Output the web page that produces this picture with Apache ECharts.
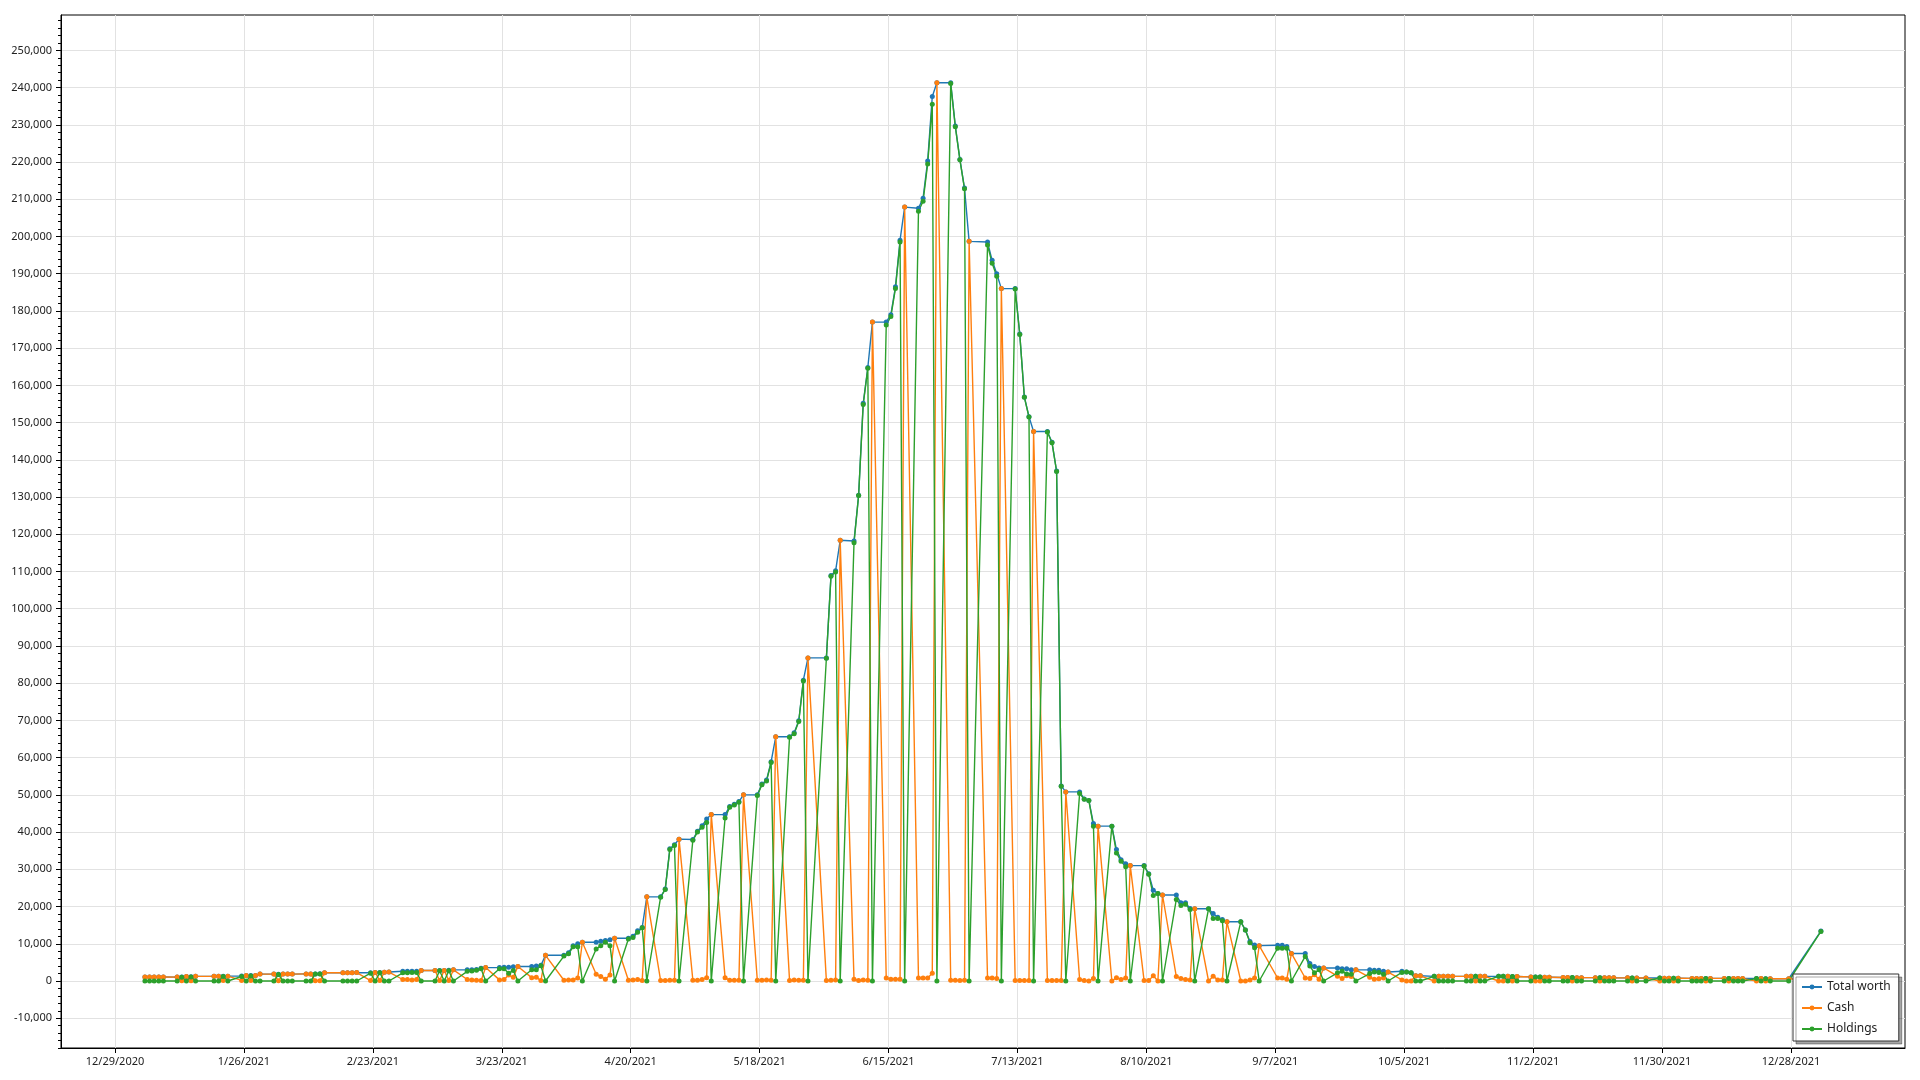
<!DOCTYPE html>
<html><head><meta charset="utf-8">
<script src="https://cdn.jsdelivr.net/npm/echarts@6/dist/echarts.min.js"></script>
<style>html,body{margin:0;padding:0;background:#fff;}#c{width:1920px;height:1080px;}</style>
</head><body><div id="c"></div>
<script>
// ---- data (one line per trading week) ----
const dates = [
'2021-01-04','2021-01-05','2021-01-06','2021-01-07','2021-01-08',
'2021-01-11','2021-01-12','2021-01-13','2021-01-14','2021-01-15',
'2021-01-19','2021-01-20','2021-01-21','2021-01-22',
'2021-01-25','2021-01-26','2021-01-27','2021-01-28','2021-01-29',
'2021-02-01','2021-02-02','2021-02-03','2021-02-04','2021-02-05',
'2021-02-08','2021-02-09','2021-02-10','2021-02-11','2021-02-12',
'2021-02-16','2021-02-17','2021-02-18','2021-02-19',
'2021-02-22','2021-02-23','2021-02-24','2021-02-25','2021-02-26',
'2021-03-01','2021-03-02','2021-03-03','2021-03-04','2021-03-05',
'2021-03-08','2021-03-09','2021-03-10','2021-03-11','2021-03-12',
'2021-03-15','2021-03-16','2021-03-17','2021-03-18','2021-03-19',
'2021-03-22','2021-03-23','2021-03-24','2021-03-25','2021-03-26',
'2021-03-29','2021-03-30','2021-03-31','2021-04-01',
'2021-04-05','2021-04-06','2021-04-07','2021-04-08','2021-04-09',
'2021-04-12','2021-04-13','2021-04-14','2021-04-15','2021-04-16',
'2021-04-19','2021-04-20','2021-04-21','2021-04-22','2021-04-23',
'2021-04-26','2021-04-27','2021-04-28','2021-04-29','2021-04-30',
'2021-05-03','2021-05-04','2021-05-05','2021-05-06','2021-05-07',
'2021-05-10','2021-05-11','2021-05-12','2021-05-13','2021-05-14',
'2021-05-17','2021-05-18','2021-05-19','2021-05-20','2021-05-21',
'2021-05-24','2021-05-25','2021-05-26','2021-05-27','2021-05-28',
'2021-06-01','2021-06-02','2021-06-03','2021-06-04',
'2021-06-07','2021-06-08','2021-06-09','2021-06-10','2021-06-11',
'2021-06-14','2021-06-15','2021-06-16','2021-06-17','2021-06-18',
'2021-06-21','2021-06-22','2021-06-23','2021-06-24','2021-06-25',
'2021-06-28','2021-06-29','2021-06-30','2021-07-01','2021-07-02',
'2021-07-06','2021-07-07','2021-07-08','2021-07-09',
'2021-07-12','2021-07-13','2021-07-14','2021-07-15','2021-07-16',
'2021-07-19','2021-07-20','2021-07-21','2021-07-22','2021-07-23',
'2021-07-26','2021-07-27','2021-07-28','2021-07-29','2021-07-30',
'2021-08-02','2021-08-03','2021-08-04','2021-08-05','2021-08-06',
'2021-08-09','2021-08-10','2021-08-11','2021-08-12','2021-08-13',
'2021-08-16','2021-08-17','2021-08-18','2021-08-19','2021-08-20',
'2021-08-23','2021-08-24','2021-08-25','2021-08-26','2021-08-27',
'2021-08-30','2021-08-31','2021-09-01','2021-09-02','2021-09-03',
'2021-09-07','2021-09-08','2021-09-09','2021-09-10',
'2021-09-13','2021-09-14','2021-09-15','2021-09-16','2021-09-17',
'2021-09-20','2021-09-21','2021-09-22','2021-09-23','2021-09-24',
'2021-09-27','2021-09-28','2021-09-29','2021-09-30','2021-10-01',
'2021-10-04','2021-10-05','2021-10-06','2021-10-07','2021-10-08',
'2021-10-11','2021-10-12','2021-10-13','2021-10-14','2021-10-15',
'2021-10-18','2021-10-19','2021-10-20','2021-10-21','2021-10-22',
'2021-10-25','2021-10-26','2021-10-27','2021-10-28','2021-10-29',
'2021-11-01','2021-11-02','2021-11-03','2021-11-04','2021-11-05',
'2021-11-08','2021-11-09','2021-11-10','2021-11-11','2021-11-12',
'2021-11-15','2021-11-16','2021-11-17','2021-11-18','2021-11-19',
'2021-11-22','2021-11-23','2021-11-24','2021-11-26',
'2021-11-29','2021-11-30','2021-12-01','2021-12-02','2021-12-03',
'2021-12-06','2021-12-07','2021-12-08','2021-12-09','2021-12-10',
'2021-12-13','2021-12-14','2021-12-15','2021-12-16','2021-12-17',
'2021-12-20','2021-12-21','2021-12-22','2021-12-23',
'2021-12-27',
'2022-01-03'
];
const totalWorth = [
1080,1080,1080,1080,1080,
1050,1050,1200,1150,1250,
1250,1250,1300,1300,
1350,1450,1450,1500,1850,
1850,1800,1850,1850,1850,
1900,1900,1900,1950,2200,
2200,2200,2200,2250,
2200,2300,2300,2350,2400,
2600,2600,2600,2650,2800,
2800,2850,2850,2900,3000,
3000,3000,3100,3400,3600,
3600,3700,3700,3800,3900,
3900,4000,4200,6900,
6900,7600,9500,10000,10400,
10400,10700,10900,11100,11500,
11500,12000,13500,14400,22600,
22600,24700,35500,36600,38100,
38000,40200,41700,43500,44700,
44700,46900,47500,48200,50000,
50000,52900,54000,58900,65600,
65600,66700,69900,80800,86800,
86800,108900,110200,118400,
118200,130500,155200,164800,177000,
177000,179000,186500,199000,207900,
207600,210300,220300,237600,241300,
241300,229700,220700,213000,198700,
198500,193600,190000,186000,
186000,173800,156900,151600,147600,
147600,144700,137000,52400,50800,
50800,48900,48500,42300,41600,
41600,35300,32600,31500,31000,
31000,28800,24400,23500,23100,
23100,21000,21000,19500,19400,
19400,18100,17100,16500,15900,
15900,13700,10600,9700,9500,
9600,9600,9300,7400,
7400,4700,3900,3500,3500,
3500,3300,3300,3000,3000,
3000,2900,2900,2600,2400,
2600,2400,2200,1400,1400,
1250,1250,1250,1250,1250,
1250,1250,1250,1250,1250,
1250,1250,1250,1200,1200,
1100,1100,1050,1000,1000,
950,950,950,900,900,
900,900,850,850,850,
850,800,800,800,
800,750,750,750,750,
700,700,700,700,700,
700,650,650,650,650,
650,650,600,600,
600,
13400
];
const cash = [
1080,1080,1080,1080,1080,
1050,50,1200,50,1250,
1250,1250,100,1300,
150,1450,100,1500,1850,
1850,50,1850,1850,1850,
1900,1900,50,50,2200,
2200,2200,2200,2250,
100,2300,100,2350,2400,
400,400,300,400,2800,
2800,100,2850,150,3000,
400,300,200,100,3600,
300,400,1600,1000,3900,
900,1000,100,6900,
200,300,300,800,10400,
1800,1200,500,1600,11500,
200,300,400,100,22600,
100,100,200,200,38100,
200,200,400,900,44700,
900,200,200,200,50000,
200,200,300,200,65600,
100,300,200,200,86800,
100,200,300,118400,
500,100,300,200,177000,
800,500,500,500,207900,
800,800,800,2100,241300,
200,200,100,200,198700,
800,800,700,186000,
100,100,100,100,147600,
100,100,100,100,50800,
400,100,0,700,41600,
0,900,400,800,31000,
100,100,1400,0,23100,
1200,700,400,300,19400,
0,1300,300,300,15900,
0,0,300,800,9500,
800,800,500,7400,
800,700,1700,500,3500,
1300,700,1400,1200,3000,
1000,500,600,800,2400,
300,0,0,1400,1400,
0,1250,1250,1250,1250,
1250,1250,0,1250,1250,
0,0,1250,0,1200,
1100,0,0,1000,1000,
950,950,0,900,900,
900,0,850,850,850,
850,0,800,800,
0,750,750,0,750,
700,700,700,0,700,
700,0,650,650,650,
0,650,0,600,
600,
100
];
const holdings = [
0,0,0,0,0,
0,1000,0,1100,0,
0,0,1200,0,
1200,0,1350,0,0,
0,1750,0,0,0,
0,0,1850,1900,0,
0,0,0,0,
2100,0,2200,0,0,
2200,2200,2300,2250,0,
0,2750,0,2750,0,
2600,2700,2900,3300,0,
3300,3300,2100,2800,0,
3000,3000,4100,0,
6700,7300,9200,9200,0,
8600,9500,10400,9500,0,
11300,11700,13100,14300,0,
22500,24600,35300,36400,0,
37800,40000,41300,42600,0,
43800,46700,47300,48000,0,
49800,52700,53700,58700,0,
65500,66400,69700,80600,0,
86700,108700,109900,0,
117700,130400,154900,164600,0,
176200,178500,186000,198500,0,
206800,209500,219500,235500,0,
241100,229500,220600,212800,0,
197700,192800,189300,0,
185900,173700,156800,151500,0,
147500,144600,136900,52300,0,
50400,48800,48500,41600,0,
41600,34400,32200,30700,0,
30900,28700,23000,23500,0,
21900,20300,20600,19200,0,
19400,16800,16800,16200,0,
15900,13700,10300,8900,0,
8800,8800,8800,0,
6600,4000,2200,3000,0,
2200,2600,1900,1800,0,
2000,2400,2300,1800,0,
2300,2400,2200,0,0,
1250,0,0,0,0,
0,0,1250,0,0,
1250,1250,0,1200,0,
0,1100,1050,0,0,
0,0,950,0,0,
0,900,0,0,0,
0,800,0,0,
800,0,0,750,0,
0,0,0,700,0,
0,650,0,0,0,
650,0,600,0,
0,
13300
];
const seriesNames = ['Total worth', 'Cash', 'Holdings'];
const seriesColors = ['#1f77b4', '#ff7f0e', '#2ca02c'];
const xTickDates = ['2020-12-29','2021-01-26','2021-02-23','2021-03-23','2021-04-20','2021-05-18','2021-06-15',
  '2021-07-13','2021-08-10','2021-09-07','2021-10-05','2021-11-02','2021-11-30','2021-12-28'];
const yTickValues = [-10000,0,10000,20000,30000,40000,50000,60000,70000,80000,90000,100000,110000,120000,
  130000,140000,150000,160000,170000,180000,190000,200000,210000,220000,230000,240000,250000];

// ---- chart ----
const DAY = 86400000;
function ts(s){ const p = s.split('-').map(Number); return Date.UTC(p[0], p[1]-1, p[2]); }
const pointTime = s => ts(s) + DAY / 2;
const pairs = arr => dates.map((d, i) => [pointTime(d), arr[i]]);
const origin = ts('2020-12-29');
const xMin = origin - 11.73 * DAY, xMax = origin + 388.76 * DAY;
const yMin = -18000, yMax = 259500;
const xTicks = xTickDates.map(ts);
const yMinor = [];
for (let v = -18000; v <= 258000; v += 2000) yMinor.push(v);
const fmtDate = v => { const d = new Date(v); return (d.getUTCMonth()+1) + '/' + d.getUTCDate() + '/' + d.getUTCFullYear(); };
const fmtNum = v => Math.round(v).toLocaleString('en-US');
const FONT = 'Noto Sans';

const chart = echarts.init(document.getElementById('c'), null, {renderer: 'canvas'});
const mk = (k, arr) => ({
  name: seriesNames[k], type: 'line', data: pairs(arr),
  symbol: 'circle', symbolSize: 5, showAllSymbol: true,
  lineStyle: {width: 1.4, color: seriesColors[k]},
  itemStyle: {color: seriesColors[k]},
  emphasis: {disabled: true}, silent: true
});
chart.setOption({
  animation: false,
  backgroundColor: '#ffffff',
  textStyle: {fontFamily: FONT},
  grid: {left: 61, right: 15, top: 15, bottom: 32, show: true, borderColor: '#000', borderWidth: 1,
         containLabel: false, outerBoundsMode: 'none'},
  xAxis: {
    type: 'value', min: xMin, max: xMax,
    axisLine: {show: true, onZero: false, lineStyle: {color: '#000', width: 1}},
    axisTick: {show: true, length: 5, lineStyle: {color: '#000'}, customValues: xTicks},
    axisLabel: {customValues: xTicks, formatter: fmtDate, fontSize: 11, color: '#222', margin: 8, fontFamily: FONT},
    splitLine: {show: true, lineStyle: {color: '#e2e2e2', width: 1}}
  },
  yAxis: [{
    type: 'value', min: yMin, max: yMax,
    axisLine: {show: true, onZero: false, lineStyle: {color: '#000', width: 1}},
    axisTick: {show: true, length: 5, lineStyle: {color: '#000'}, customValues: yTickValues},
    axisLabel: {customValues: yTickValues, formatter: fmtNum, fontSize: 11, color: '#222', margin: 9, fontFamily: FONT},
    splitLine: {show: true, lineStyle: {color: '#e2e2e2', width: 1}}
  }, {
    type: 'value', min: yMin, max: yMax, position: 'left',
    axisLine: {show: false},
    axisTick: {show: true, length: 3, lineStyle: {color: '#000'}, customValues: yMinor},
    axisLabel: {show: false},
    splitLine: {show: false}
  }],
  legend: {
    orient: 'vertical', left: 1793, top: 974,
    itemWidth: 20, itemHeight: 6, itemGap: 9,
    padding: [7, 8, 6, 8],
    backgroundColor: '#fff', borderColor: '#333', borderWidth: 1,
    shadowColor: 'rgba(0,0,0,0.35)', shadowOffsetX: 3, shadowOffsetY: 3, shadowBlur: 0,
    textStyle: {fontSize: 12, color: '#222', fontFamily: FONT},
    data: seriesNames
  },
  series: [mk(0, totalWorth), mk(1, cash), mk(2, holdings)]
});
</script></body></html>
